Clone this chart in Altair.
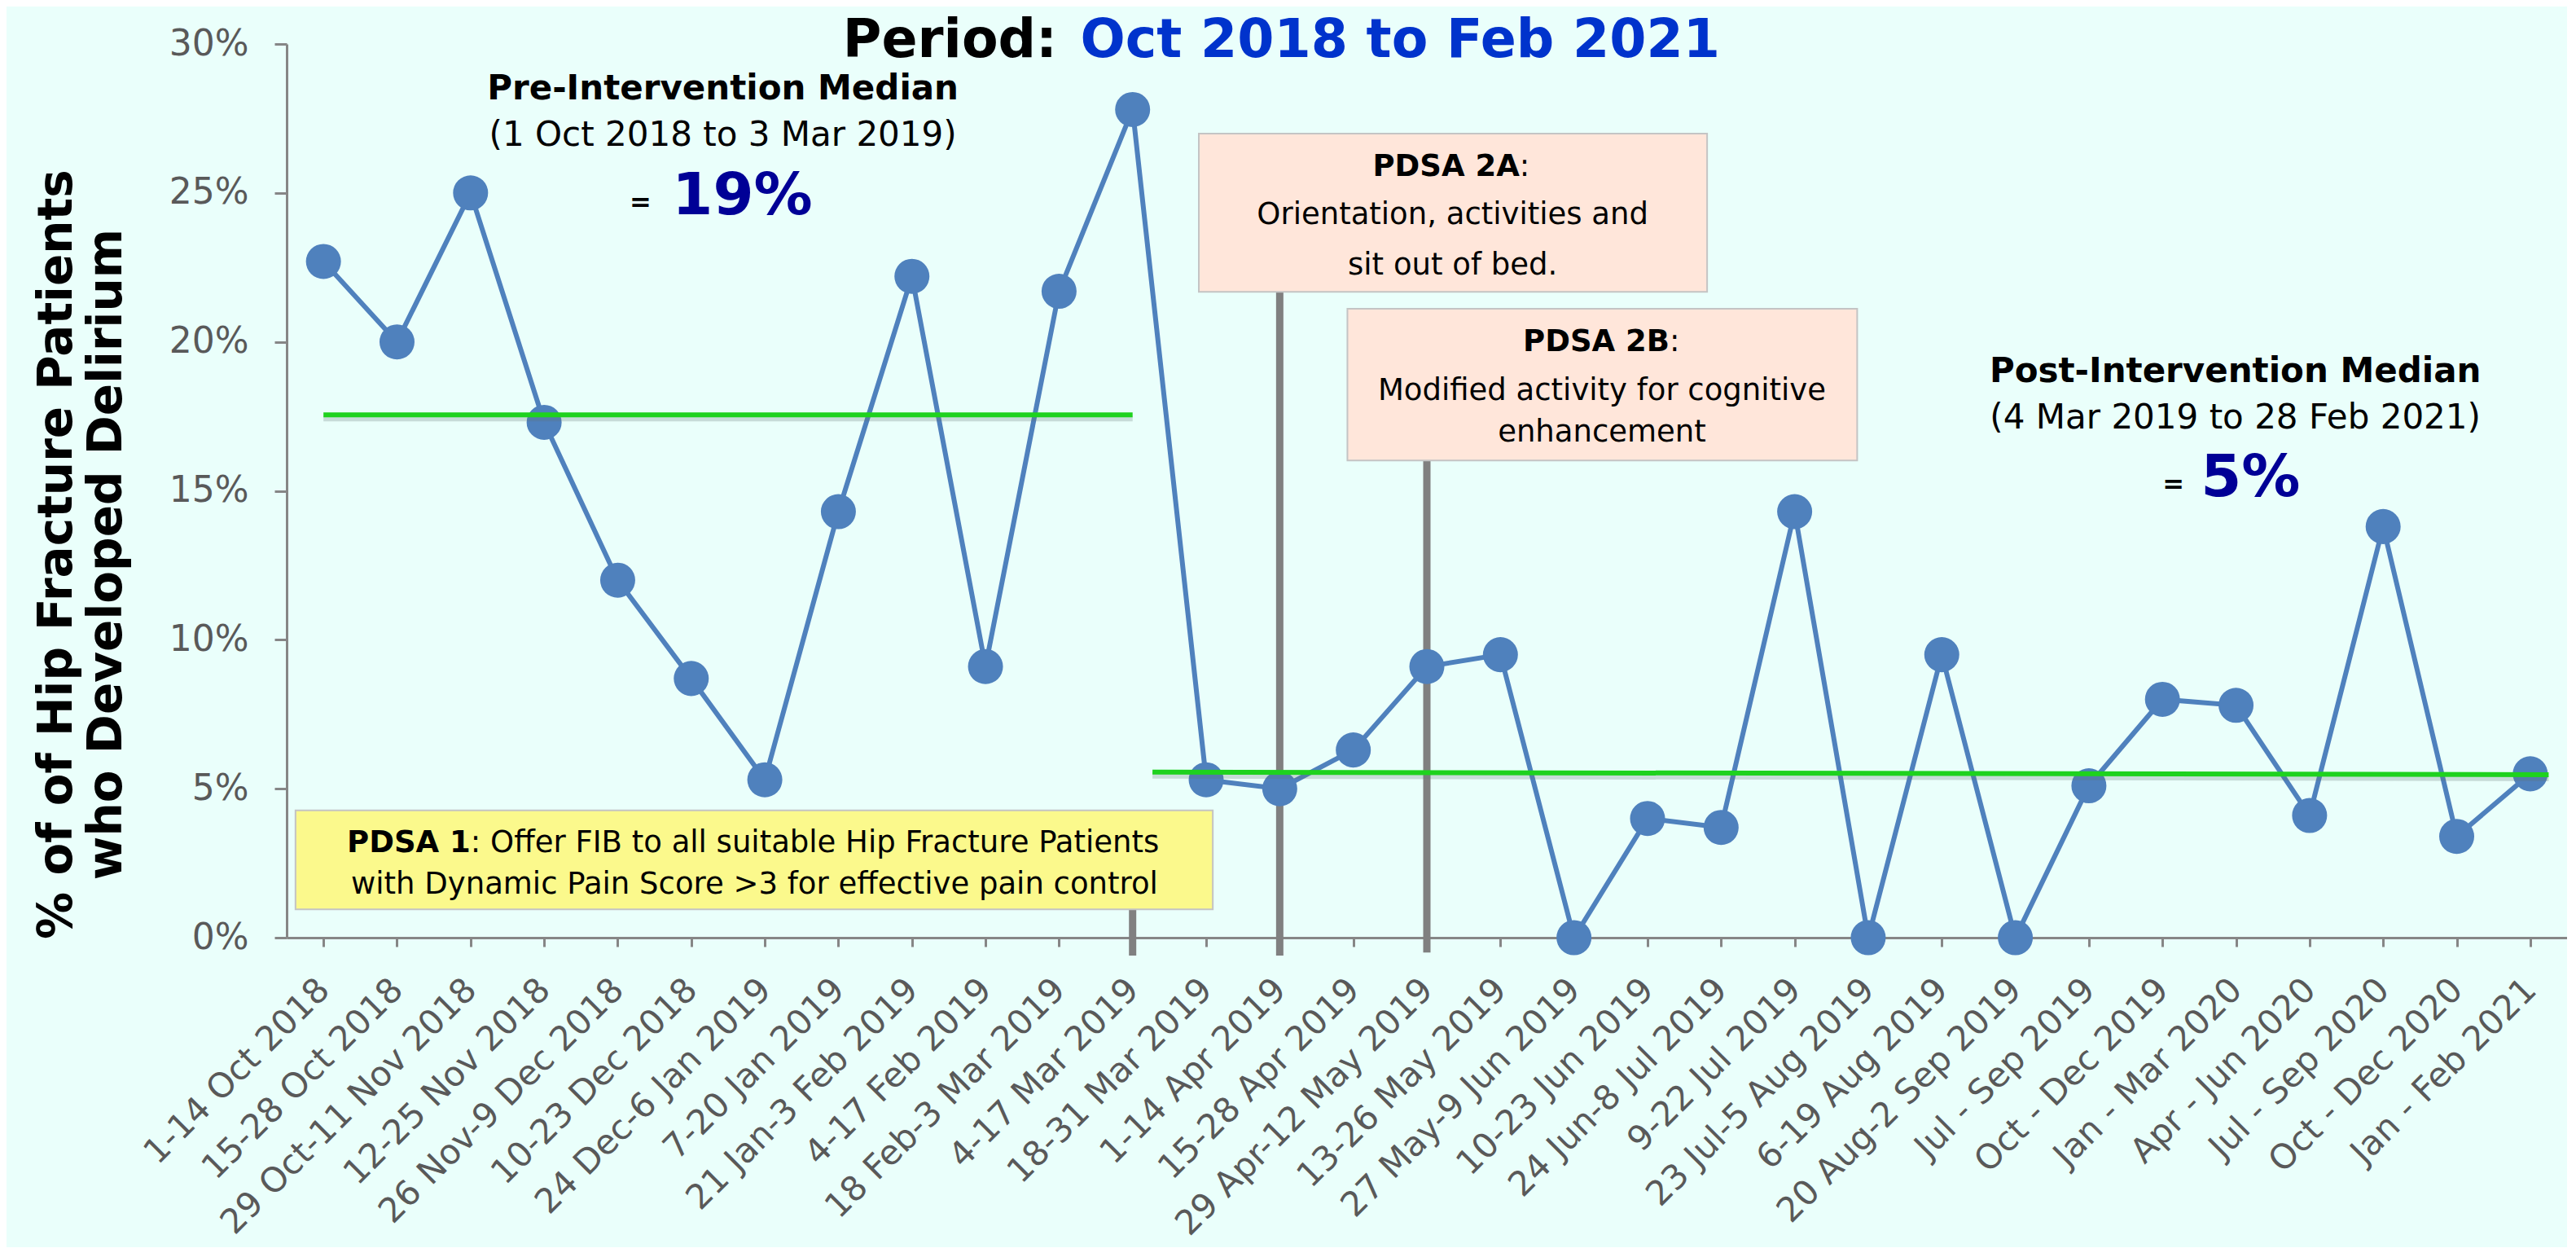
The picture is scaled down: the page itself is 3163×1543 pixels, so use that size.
import json
import altair as alt
import pandas as pd

# ---------------- data ----------------
periods = [
    "1-14 Oct 2018", "15-28 Oct 2018", "29 Oct-11 Nov 2018", "12-25 Nov 2018",
    "26 Nov-9 Dec 2018", "10-23 Dec 2018", "24 Dec-6 Jan 2019", "7-20 Jan 2019",
    "21 Jan-3 Feb 2019", "4-17 Feb 2019", "18 Feb-3 Mar 2019", "4-17 Mar 2019",
    "18-31 Mar 2019", "1-14 Apr 2019", "15-28 Apr 2019", "29 Apr-12 May 2019",
    "13-26 May 2019", "27 May-9 Jun 2019", "10-23 Jun 2019", "24 Jun-8 Jul 2019",
    "9-22 Jul 2019", "23 Jul-5 Aug 2019", "6-19 Aug 2019", "20 Aug-2 Sep 2019",
    "Jul - Sep 2019", "Oct - Dec 2019", "Jan - Mar 2020", "Apr - Jun 2020",
    "Jul - Sep 2020", "Oct - Dec 2020", "Jan - Feb 2021",
]
delirium_pct = [
    22.7, 20.0, 25.0, 17.3, 12.0, 8.7, 5.3, 14.3, 22.2, 9.1, 21.7, 27.8,
    5.3, 5.0, 6.3, 9.1, 9.5, 0.0, 4.0, 3.7, 14.3, 0.0, 9.5, 0.0,
    5.1, 8.0, 7.8, 4.1, 13.8, 3.4, 5.5,
]
y_ticks = [0, 5, 10, 15, 20, 25, 30]

# median lines (x in period index units, y in %)
median_phase = ["Pre", "Pre", "Post", "Post"]
median_x = [0, 11, 11.27, 30.25]
median_y = [17.55, 17.55, 5.56, 5.47]

# PDSA marker lines
pdsa_x = [11, 13, 15]
pdsa_top = [4.27, 21.68, 16.02]
pdsa_bottom = [-0.6, -0.6, -0.5]

# PDSA boxes
box_x1 = [-0.38, 11.90, 13.92]
box_x2 = [12.09, 18.81, 20.85]
box_y1 = [0.95, 21.68, 16.02]
box_y2 = [4.27, 26.99, 21.11]
box_fill = ["#FBF98C", "#FFE6DA", "#FFE6DA"]

# annotation texts
pdsa_bold = ["PDSA 1", "PDSA 2A", "PDSA 2B"]
pdsa_rest = [": Offer FIB to all suitable Hip Fracture Patients", ":", ":"]
pdsa_split_x = [2.0, 16.26, 18.30]
pdsa_head_y = [2.86, 25.56, 19.69]

pdsa_lines = ["with Dynamic Pain Score >3 for effective pain control",
              "Orientation, activities and", "sit out of bed.",
              "Modified activity for cognitive", "enhancement"]
pdsa_lines_x = [5.86, 15.35, 15.35, 17.38, 17.38]
pdsa_lines_y = [1.49, 23.95, 22.26, 18.05, 16.65]

median_heads = ["Pre-Intervention Median", "Post-Intervention Median"]
median_ranges = ["(1 Oct 2018 to 3 Mar 2019)", "(4 Mar 2019 to 28 Feb 2021)"]
median_text_x = [5.43, 25.99]
median_head_y = [28.14, 18.65]
median_range_y = [26.58, 17.10]
median_values = ["19%", "5%"]
median_value_x = [4.74, 25.52]
median_value_y = [24.28, 14.82]
equals_x = [4.31, 25.15]
equals_y = [24.39, 14.93]

title_parts = ["Period:", "Oct 2018 to Feb 2021"]
title_x = [7.06, 10.29]
title_y = [29.55, 29.55]
title_colors = ["#000000", "#0033CC"]

# ---------------- chart ----------------
FONT = "DejaVu Sans"
xs = alt.Scale(domain=[-0.5, 30.5], nice=False, zero=False)
ys = alt.Scale(domain=[0, 30], nice=False, zero=False)

x_axis = alt.Axis(
    values=list(range(len(periods))),
    labelExpr=f"{json.dumps(periods)}[datum.value]",
    labelAngle=-45, labelAlign="right", labelBaseline="middle",
    labelFont=FONT, labelFontSize=42, labelColor="#595959",
    labelPadding=46, labelOverlap=False, labelLimit=1000,
    tickSize=11, tickWidth=3, tickColor="#868686",
    domainColor="#868686", domainWidth=3, grid=False, title=None,
)
y_axis = alt.Axis(
    values=y_ticks, labelExpr="datum.value + '%'",
    labelFont=FONT, labelFontSize=44, labelColor="#595959", labelPadding=32,
    tickSize=15, tickWidth=3, tickColor="#868686",
    domainColor="#868686", domainWidth=3, grid=False,
    title=["% of of Hip Fracture Patients", "who Developed Delirium"],
    titleFont=FONT, titleFontSize=58, titleFontWeight="bold", titleColor="black",
    titleAngle=270, titleAlign="center", titleBaseline="alphabetic",
    titleLineHeight=61, titleX=-265, titleY=626,
)


def X(field):
    return alt.X(field, scale=xs, axis=x_axis)


def Y(field):
    return alt.Y(field, scale=ys, axis=y_axis)


def text_layer(texts, xv, yv, size, weight="normal", color="black", align="center"):
    df = pd.DataFrame({"t": texts, "x": xv, "y": yv})
    return alt.Chart(df).mark_text(
        font=FONT, fontSize=size, fontWeight=weight, color=color,
        align=align, baseline="alphabetic"
    ).encode(x=X("x:Q"), y=Y("y:Q"), text="t:N")


data_df = pd.DataFrame({"idx": list(range(len(periods))), "period": periods, "pct": delirium_pct})

rules = alt.Chart(pd.DataFrame({"x": pdsa_x, "top": pdsa_top, "bottom": pdsa_bottom})).mark_rule(
    color="#808080", strokeWidth=9
).encode(x=X("x:Q"), y=Y("top:Q"), y2="bottom:Q")

boxes = alt.Chart(pd.DataFrame({"x1": box_x1, "x2": box_x2, "y1": box_y1, "y2": box_y2, "fill": box_fill})).mark_rect(
    stroke="#C4C4C4", strokeWidth=2
).encode(x=X("x1:Q"), x2="x2:Q", y=Y("y1:Q"), y2="y2:Q", fill=alt.Fill("fill:N", scale=None))

line = alt.Chart(data_df).mark_line(color="#4F81BD", strokeWidth=6).encode(
    x=X("idx:Q"), y=Y("pct:Q")
)
points = alt.Chart(data_df).mark_circle(size=1850, color="#4F81BD", opacity=1).encode(
    x=X("idx:Q"), y=Y("pct:Q")
)

med_df = pd.DataFrame({"phase": median_phase, "x": median_x, "y": median_y})
med_shadow = alt.Chart(med_df).mark_line(color="#5f6f6f", strokeWidth=6, opacity=0.25, yOffset=5).encode(
    x=X("x:Q"), y=Y("y:Q"), detail="phase:N"
)
med_line = alt.Chart(med_df).mark_line(color="#1ED21E", strokeWidth=6).encode(
    x=X("x:Q"), y=Y("y:Q"), detail="phase:N"
)

layers = [
    rules, boxes,
    text_layer(pdsa_bold, pdsa_split_x, pdsa_head_y, 37, "bold", align="right"),
    text_layer(pdsa_rest, pdsa_split_x, pdsa_head_y, 37, align="left"),
    text_layer(pdsa_lines, pdsa_lines_x, pdsa_lines_y, 37),
    text_layer(median_heads, median_text_x, median_head_y, 42, "bold"),
    text_layer(median_ranges, median_text_x, median_range_y, 42),
    text_layer(["=", "="], equals_x, equals_y, 32, "bold"),
    text_layer(median_values, median_value_x, median_value_y, 72, "bold", color="#000096", align="left"),
    line, points, med_shadow, med_line,
    text_layer(title_parts[:1], title_x[:1], title_y[:1], 65, "bold", color=title_colors[0], align="left"),
    text_layer(title_parts[1:], title_x[1:], title_y[1:], 65, "bold", color=title_colors[1], align="left"),
]

chart = alt.layer(*layers).properties(
    width=2800, height=1097,
    padding={"left": 344, "top": 46, "right": 0, "bottom": 380},
    autosize=alt.AutoSizeParams(type="none"),
    background="#EAFFFB",
).configure_view(stroke=None)

chart.save("out.html", embed_options={"renderer": "svg", "actions": False})
